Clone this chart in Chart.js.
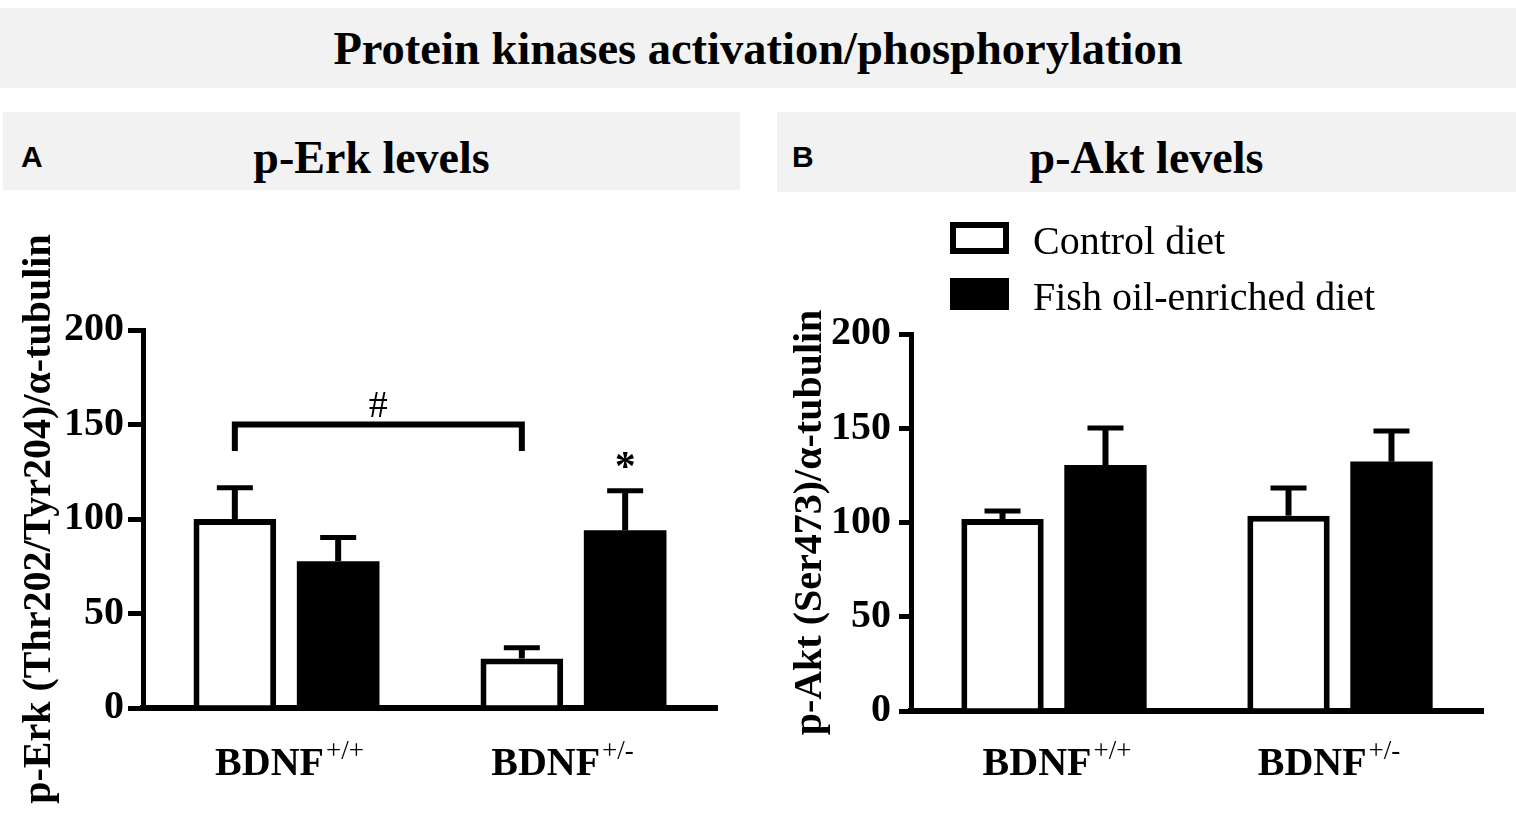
<!DOCTYPE html>
<html><head><meta charset="utf-8">
<script src="https://cdn.jsdelivr.net/npm/chart.js@4.4.1/dist/chart.umd.min.js"></script>
<style>
html,body{margin:0;padding:0;background:#fff;width:1516px;height:813px;overflow:hidden;}
.banner{position:absolute;background:#f2f2f2;font-family:"Liberation Serif","Times New Roman",serif;font-weight:bold;color:#000;text-align:center;line-height:46px;font-size:46px;box-sizing:border-box;white-space:nowrap;}
#main{left:0;top:8px;width:1516px;height:80px;padding-top:18px;font-size:46.5px;}
#pa{left:3px;top:112px;width:737px;height:78px;padding-top:23px;}
#pb{left:777px;top:112px;width:739px;height:80px;padding-top:23px;}
.letter{position:absolute;font-family:"Liberation Sans",Arial,sans-serif;font-weight:bold;font-size:30px;line-height:30px;color:#000;}
canvas{position:absolute;top:0;}
</style></head>
<body>
<div class="banner" id="main">Protein kinases activation/phosphorylation</div>
<div class="banner" id="pa">p-Erk levels</div>
<div class="banner" id="pb">p-Akt levels</div>
<div class="letter" style="left:21px;top:142px">A</div>
<div class="letter" style="left:792px;top:142px">B</div>
<canvas id="ca" width="760" height="813" style="left:0;width:760px;height:813px"></canvas>
<canvas id="cb" width="756" height="813" style="left:760px;width:756px;height:813px"></canvas>
<script>
// ---- data ----
const genotypes = ['BDNF+/+', 'BDNF+/-'];
const seriesNames = ['Control diet', 'Fish oil-enriched diet'];
const yTicks = [0, 50, 100, 150, 200];

const erkControl = [100, 26.2];
const erkControlSem = [16.5, 5.7];
const erkFish = [77.7, 94];
const erkFishSem = [12.5, 21];

const aktControl = [101.8, 103.6];
const aktControlSem = [4.3, 14.7];
const aktFish = [130.5, 132.3];
const aktFishSem = [19.6, 16.2];

// significance marks (panel A): bracket between control groups, star over fish oil BDNF+/-
const erkBracket = { ds: 0, from: 0, to: 1, level: 150, legDrop: 14, mark: '#', markLevel: 160.5 };
const erkStar = { ds: 1, index: 1, mark: '*', level: 131 };

const SERIF = '"Liberation Serif", "Times New Roman", serif';
Chart.defaults.font.family = SERIF;
Chart.defaults.color = '#000';

const errorBars = {
  id: 'errorBars',
  afterDatasetsDraw(chart) {
    const ctx = chart.ctx, y = chart.scales.y;
    chart.data.datasets.forEach((ds, di) => {
      const meta = chart.getDatasetMeta(di);
      meta.data.forEach((bar, i) => {
        const top = y.getPixelForValue(ds.data[i] + ds.sem[i]);
        ctx.save();
        ctx.strokeStyle = '#000';
        ctx.lineCap = 'butt';
        ctx.lineWidth = 6;
        ctx.beginPath(); ctx.moveTo(bar.x, bar.y); ctx.lineTo(bar.x, top); ctx.stroke();
        ctx.lineWidth = 5;
        ctx.beginPath(); ctx.moveTo(bar.x - 18, top); ctx.lineTo(bar.x + 18, top); ctx.stroke();
        ctx.restore();
      });
    });
  }
};

const xLabels = {
  id: 'xLabels',
  afterDraw(chart, args, opts) {
    const ctx = chart.ctx, xs = chart.scales.x;
    chart.data.labels.forEach((lab, i) => {
      const m = lab.match(/^([^+]+)(.*)$/);
      const base = m[1], sup = m[2];
      ctx.save();
      ctx.fillStyle = '#000';
      ctx.textBaseline = 'alphabetic';
      ctx.textAlign = 'left';
      ctx.font = 'bold 40px ' + SERIF;
      const w1 = ctx.measureText(base).width;
      ctx.font = '27px ' + SERIF;
      const w2 = ctx.measureText(sup).width;
      const x0 = xs.getPixelForTick(i) - (w1 + w2) / 2 + opts.shift[i];
      ctx.font = 'bold 40px ' + SERIF;
      ctx.fillText(base, x0, opts.baseline);
      ctx.font = '27px ' + SERIF;
      ctx.fillText(sup, x0 + w1 + 2, opts.baseline - 16);
      ctx.restore();
    });
  }
};

function centerText(ctx, txt, x, y) {
  const m = ctx.measureText(txt);
  const h = m.actualBoundingBoxAscent + m.actualBoundingBoxDescent;
  ctx.textAlign = 'center';
  ctx.textBaseline = 'alphabetic';
  ctx.fillText(txt, x, y + h / 2 - m.actualBoundingBoxDescent);
}

const sigMarks = {
  id: 'sigMarks',
  afterDraw(chart, args, opts) {
    const ctx = chart.ctx, y = chart.scales.y;
    ctx.save();
    ctx.strokeStyle = '#000'; ctx.fillStyle = '#000';
    if (opts.bracket) {
      const b = opts.bracket;
      const meta = chart.getDatasetMeta(b.ds);
      const x1 = meta.data[b.from].x, x2 = meta.data[b.to].x;
      const yl = y.getPixelForValue(b.level), yd = y.getPixelForValue(b.level - b.legDrop);
      ctx.lineWidth = 6; ctx.lineJoin = 'miter'; ctx.lineCap = 'butt';
      ctx.beginPath(); ctx.moveTo(x1, yd); ctx.lineTo(x1, yl); ctx.lineTo(x2, yl); ctx.lineTo(x2, yd); ctx.stroke();
      ctx.font = '38px ' + SERIF;
      centerText(ctx, b.mark, (x1 + x2) / 2, y.getPixelForValue(b.markLevel));
    }
    if (opts.star) {
      const s = opts.star;
      const bar = chart.getDatasetMeta(s.ds).data[s.index];
      ctx.font = 'bold 42px ' + SERIF;
      centerText(ctx, s.mark, bar.x, y.getPixelForValue(s.level));
    }
    ctx.restore();
  }
};

const boxLegend = {
  id: 'boxLegend',
  afterDraw(chart, args, opts) {
    if (!opts.show) return;
    const ctx = chart.ctx;
    chart.data.datasets.forEach((ds, i) => {
      const top = opts.top + i * opts.rowGap;
      ctx.save();
      ctx.fillStyle = ds.backgroundColor;
      ctx.fillRect(opts.left, top, opts.boxW, opts.boxH);
      ctx.strokeStyle = '#000'; ctx.lineWidth = 6;
      ctx.strokeRect(opts.left + 3, top + 3, opts.boxW - 6, opts.boxH - 6);
      ctx.fillStyle = '#000';
      ctx.font = '40px ' + SERIF;
      ctx.textAlign = 'left'; ctx.textBaseline = 'alphabetic';
      ctx.fillText(ds.label, opts.textX, top + opts.textDy);
      ctx.restore();
    });
  }
};

function makeChart(id, yTitle, control, controlSem, fish, fishSem, g, extra) {
  return new Chart(document.getElementById(id), {
    type: 'bar',
    data: {
      labels: genotypes,
      datasets: [
        { label: seriesNames[0], data: control, sem: controlSem, backgroundColor: '#ffffff', borderColor: '#000000', borderWidth: 6, borderSkipped: 'start' },
        { label: seriesNames[1], data: fish, sem: fishSem, backgroundColor: '#000000', borderColor: '#000000', borderWidth: 0 }
      ]
    },
    options: {
      responsive: false,
      animation: false,
      devicePixelRatio: 1,
      categoryPercentage: 0.72,
      barPercentage: 0.8,
      layout: { padding: { left: 0, right: g.padRight, top: g.top, bottom: 0 } },
      plugins: {
        legend: { display: false },
        tooltip: { enabled: false },
        xLabels: { baseline: 775, shift: [2, -12] },
        sigMarks: extra.sig || {},
        boxLegend: extra.legend || { show: false }
      },
      scales: {
        x: {
          z: 1,
          grid: { display: true, drawOnChartArea: false, drawTicks: false },
          border: { display: true, width: 6, color: '#000' },
          ticks: { display: false },
          afterFit(s) { s.height = g.xHeight; }
        },
        y: {
          min: 0, max: 200,
          afterBuildTicks(s) { s.ticks = yTicks.map(v => ({ value: v })); },
          grid: { display: true, drawOnChartArea: false, drawTicks: true, tickLength: g.tickLen, tickWidth: 5, lineWidth: 5, color: '#000', tickColor: '#000' },
          border: { display: true, width: 5, color: '#000' },
          ticks: { font: { family: SERIF, size: 40, weight: 'bold' }, color: '#000', padding: g.tickPad },
          title: { display: true, text: yTitle, color: '#000', font: { family: SERIF, size: 40, weight: 'bold' }, padding: { top: g.titlePad, bottom: 0 } },
          afterFit(s) { s.width = g.yWidth; }
        }
      }
    },
    plugins: [errorBars, xLabels, sigMarks, boxLegend]
  });
}

makeChart('ca', 'p-Erk (Thr202/Tyr204)/α-tubulin', erkControl, erkControlSem, erkFish, erkFishSem,
  { yWidth: 143, padRight: 43, top: 330, xHeight: 105, tickLen: 15, tickPad: 4, titlePad: 16 },
  { sig: { bracket: erkBracket, star: erkStar } });

makeChart('cb', 'p-Akt (Ser473)/α-tubulin', aktControl, aktControlSem, aktFish, aktFishSem,
  { yWidth: 151, padRight: 33, top: 334, xHeight: 102, tickLen: 12, tickPad: 8, titlePad: 27 },
  { legend: { show: true, left: 190, top: 222, rowGap: 56, boxW: 59, boxH: 32, textX: 273, textDy: 32 } });
</script>
</body></html>
